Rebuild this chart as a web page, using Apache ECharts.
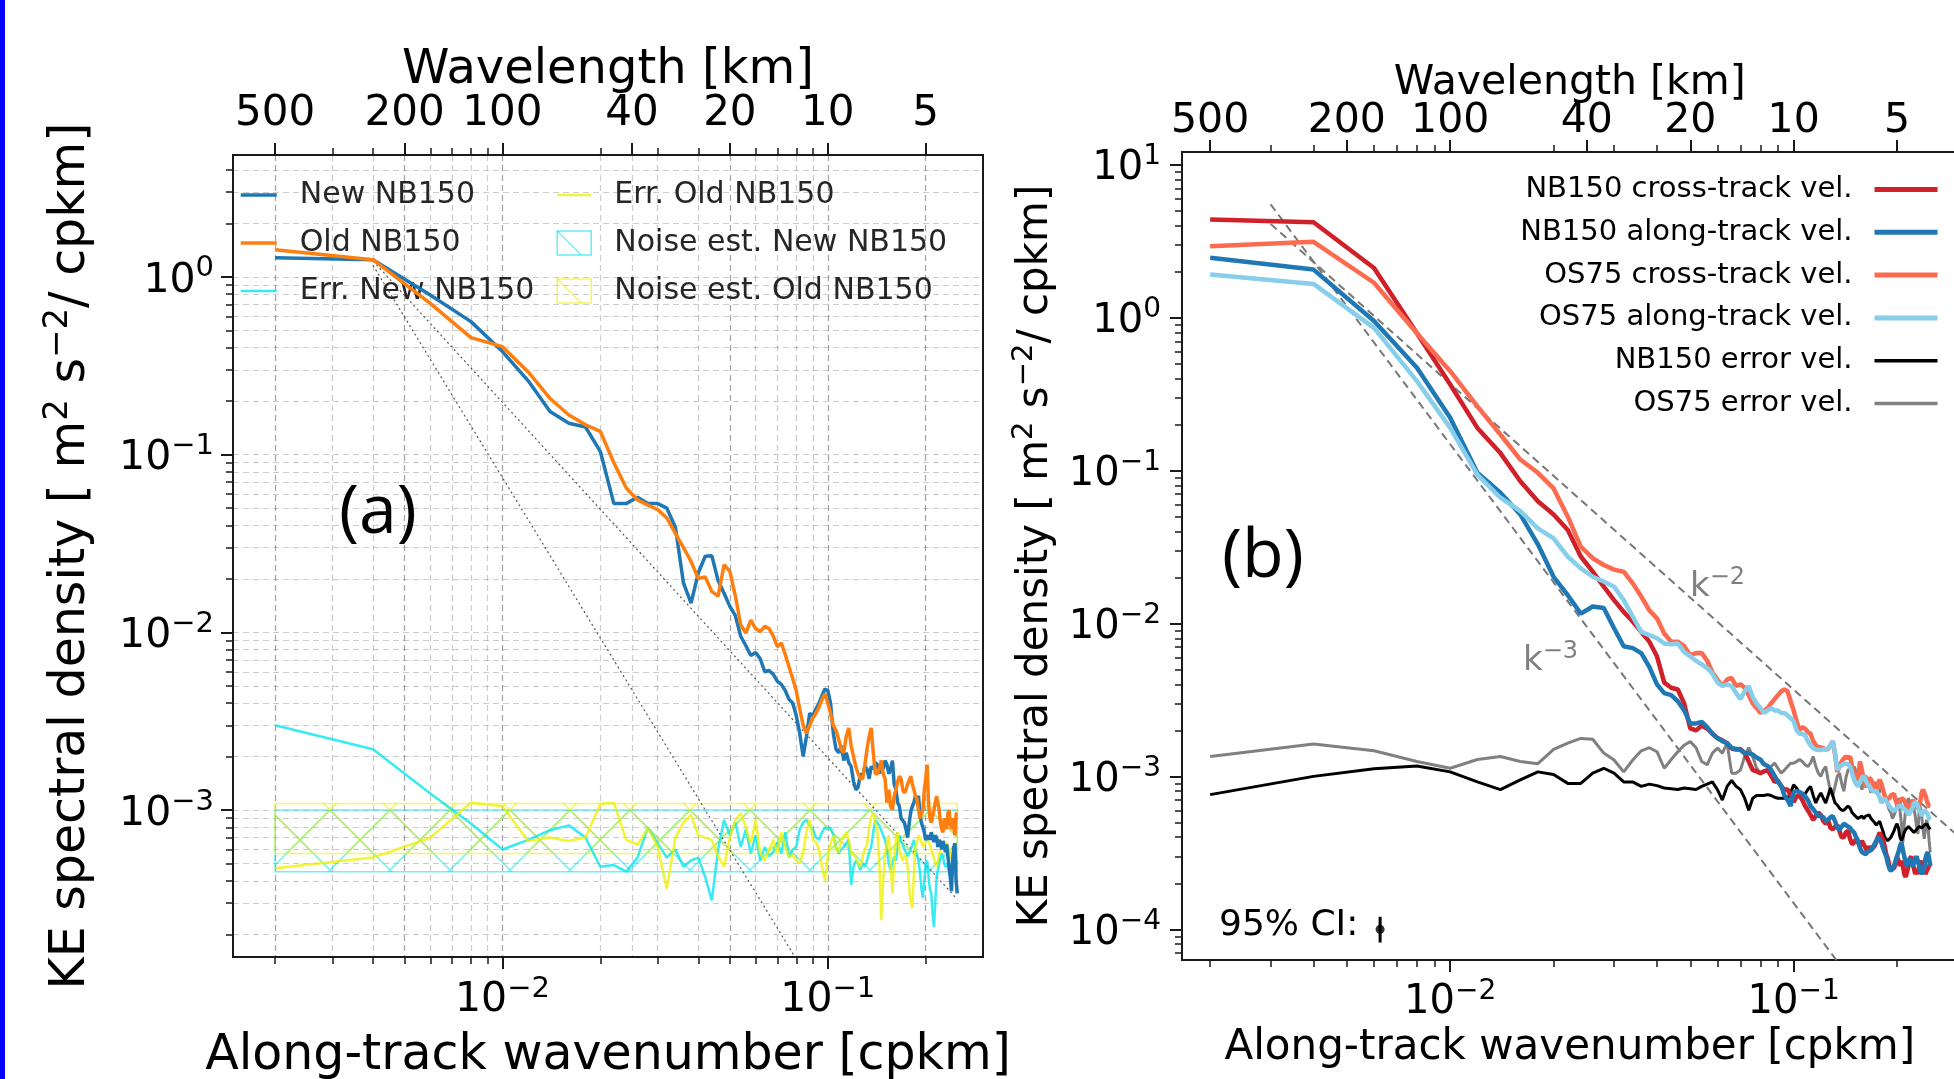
<!DOCTYPE html>
<html><head><meta charset="utf-8">
<script src="https://cdn.jsdelivr.net/npm/echarts@6/dist/echarts.min.js"></script>
<style>html,body{margin:0;padding:0;background:#fff}#c{width:1954px;height:1079px}</style>
</head><body><div id="c"></div>
<script>
// ---------- DATA ----------
const wavenumber = [
0.002,0.004,0.006,0.008,0.010,0.012,0.014,0.016,0.018,0.020,
0.022,0.024,0.026,0.028,0.030,0.032,0.034,0.036,0.038,0.040,
0.042,0.044,0.046,0.048,0.050,0.052,0.054,0.056,0.058,0.060,
0.062,0.064,0.066,0.068,0.070,0.072,0.074,0.076,0.078,0.080,
0.082,0.084,0.086,0.088,0.090,0.092,0.094,0.096,0.098,0.100,
0.102,0.104,0.106,0.108,0.110,0.112,0.114,0.116,0.118,0.120,
0.122,0.124,0.126,0.128,0.130,0.132,0.134,0.136,0.138,0.140,
0.142,0.144,0.146,0.148,0.150,0.152,0.154,0.156,0.158,0.160,
0.162,0.164,0.166,0.168,0.170,0.172,0.174,0.176,0.178,0.180,
0.182,0.184,0.186,0.188,0.190,0.192,0.194,0.196,0.198,0.200,
0.202,0.204,0.206,0.208,0.210,0.212,0.214,0.216,0.218,0.220,
0.222,0.224,0.226,0.228,0.230,0.232,0.234,0.236,0.238,0.240,
0.242,0.244,0.246,0.248,0.250];

// Panel (a)
const newNB150 = [
1.28,1.25,0.79,0.56,0.38,0.26,0.175,0.15,0.143,0.104,
0.053,0.053,0.0575,0.053,0.053,0.05,0.039,0.019,0.0146,0.0216,
0.0268,0.027,0.0196,0.0166,0.014,0.0124,0.0095,0.0084,0.0074,0.0077,
0.0071,0.006,0.0061,0.0058,0.0053,0.0051,0.0047,0.0042,0.004,0.0034,
0.0027,0.002,0.0026,0.0035,0.0034,0.0037,0.004,0.0044,0.0048,0.0047,
0.004,0.0027,0.0022,0.0021,0.0023,0.0019,0.0021,0.00185,0.00176,0.00145,
0.0013,0.00135,0.0016,0.00155,0.00176,0.0017,0.0015,0.00176,0.0017,0.00185,
0.0018,0.0016,0.00185,0.0017,0.0019,0.0018,0.0016,0.0017,0.0019,0.0014,
0.0013,0.0011,0.00105,0.0009,0.00088,0.00085,0.00078,0.0007,0.00085,0.00098,
0.00105,0.0011,0.0012,0.00115,0.0012,0.00095,0.00085,0.0008,0.00075,0.00068,
0.0007,0.00072,0.00068,0.00075,0.0007,0.00066,0.00072,0.0007,0.00062,0.00068,
0.00065,0.0006,0.00067,0.00062,0.00058,0.00064,0.00055,0.00048,0.00042,0.00035,
0.00052,0.00062,0.00065,0.0004,0.00034];
const oldNB150 = [
1.42,1.25,0.71,0.455,0.405,0.292,0.207,0.167,0.147,0.135,
0.09,0.065,0.0556,0.052,0.049,0.044,0.036,0.03,0.025,0.0201,
0.0205,0.017,0.016,0.024,0.022,0.016,0.011,0.0099,0.0117,0.0105,
0.0101,0.0108,0.0105,0.0095,0.0083,0.0087,0.0075,0.0064,0.0055,0.0047,
0.0037,0.003,0.0027,0.003,0.0033,0.0035,0.0038,0.0042,0.0045,0.004,
0.0035,0.003,0.0028,0.0025,0.0022,0.0021,0.0026,0.0029,0.0023,0.002,
0.00175,0.0016,0.0015,0.0015,0.0018,0.0022,0.0026,0.0029,0.0021,0.0016,
0.0016,0.0017,0.0019,0.0016,0.0015,0.0011,0.0013,0.00105,0.001,0.0012,
0.0013,0.00145,0.00155,0.0015,0.0013,0.00125,0.0013,0.0014,0.0014,0.00155,
0.0014,0.0013,0.0012,0.00115,0.001,0.0009,0.00088,0.001,0.0013,0.0015,
0.0018,0.0011,0.0009,0.00085,0.00085,0.001,0.0011,0.0012,0.0012,0.001,
0.00085,0.00078,0.00075,0.0009,0.00085,0.00078,0.00096,0.001,0.00085,0.00078,
0.0009,0.0008,0.00072,0.00095,0.00096];
const errNewNB150 = [
0.003,0.0022,0.00124,0.00084,0.0006,0.00068,0.00077,0.00082,0.0007,0.00048,
0.00049,0.00045,0.00054,0.0008,0.00065,0.00054,0.0006,0.00048,0.00052,0.00054,
0.00042,0.00031,0.0006,0.00088,0.00072,0.00085,0.00062,0.00078,0.00057,0.00072,
0.00052,0.00062,0.00055,0.00058,0.00066,0.00057,0.00075,0.00054,0.0006,0.00062,
0.00078,0.00085,0.00088,0.00082,0.00078,0.0007,0.00068,0.00075,0.0008,0.00078,
0.0008,0.00072,0.00062,0.00057,0.0006,0.00062,0.00065,0.00068,0.00038,0.00048,
0.00052,0.0005,0.00046,0.0005,0.00048,0.00052,0.00058,0.00062,0.00075,0.00088,
0.00085,0.00082,0.0008,0.00072,0.00068,0.0006,0.0005,0.00046,0.0005,0.00055,
0.00052,0.00062,0.00072,0.00066,0.00064,0.0006,0.00058,0.00055,0.00054,0.0006,
0.00064,0.00068,0.0006,0.00056,0.00052,0.00045,0.00036,0.00032,0.0004,0.0005,
0.00052,0.00042,0.00036,0.00034,0.00026,0.00022,0.0003,0.00042,0.00046,0.0005,
0.00055,0.00057,0.00055,0.0005,0.00048,0.0005,0.00049,0.00045,0.00042,0.0004,
0.00048,0.00057,0.00055,0.00049,0.00052];
const errOldNB150 = [
0.00047,0.00054,0.0007,0.0011,0.00105,0.00067,0.0007,0.00067,0.0007,0.00108,
0.0011,0.00068,0.00064,0.00079,0.00062,0.00036,0.0007,0.00085,0.00094,0.00072,
0.0007,0.00068,0.00055,0.00048,0.0007,0.00088,0.00096,0.0008,0.00065,0.00088,
0.00057,0.00052,0.0006,0.00068,0.00057,0.00075,0.00062,0.00054,0.00056,0.00052,
0.0005,0.00058,0.00075,0.00088,0.00068,0.00066,0.0006,0.00048,0.0004,0.00055,
0.00065,0.00072,0.0006,0.00058,0.00068,0.0007,0.00075,0.00068,0.00057,0.00056,
0.00054,0.0005,0.00048,0.00055,0.0006,0.00064,0.0008,0.00092,0.00096,0.00085,
0.00078,0.0005,0.00024,0.0004,0.00057,0.00065,0.00072,0.0005,0.00034,0.0005,
0.0007,0.00075,0.0006,0.00055,0.00052,0.00056,0.00054,0.00048,0.00036,0.0003,
0.00028,0.00045,0.00062,0.00066,0.00072,0.0007,0.00066,0.00062,0.00064,0.00066,
0.00068,0.00068,0.00064,0.0006,0.00057,0.00054,0.0005,0.00048,0.00052,0.00056,
0.0006,0.00062,0.0006,0.00062,0.00064,0.00066,0.00065,0.0006,0.00056,0.00054,
0.00052,0.00056,0.0006,0.00062,0.00062];
const noiseSpanK = [0.002, 0.25];
const noiseNewBand = [4.5e-4, 1.0e-3];
const noiseOldBand = [5.7e-4, 1.09e-3];
const refA_km2 = [[0.004, 1.23], [0.25, 3.15e-4]];
const refA_km3 = [[0.004, 1.16], [0.25, 4.75e-6]];

// Panel (b)
const nb150Cross = [
4.38,4.2,2.11,0.79,0.365,0.19,0.13,0.085,0.063,0.0516,
0.0408,0.0274,0.0218,0.0174,0.0142,0.0119,0.0103,0.0088,0.0076,0.0061,
0.0041,0.0038,0.0037,0.003,0.00206,0.002,0.00215,0.00205,0.0019,0.00178,
0.00172,0.00165,0.00152,0.0015,0.00151,0.00142,0.00125,0.0011,0.00108,0.00105,
0.00108,0.0011,0.00101,0.00092,0.00094,0.00086,0.00082,0.00082,0.00075,0.00068,
0.00074,0.00075,0.0007,0.00064,0.0006,0.00056,0.00052,0.00055,0.00058,0.00056,
0.00051,0.00049,0.00052,0.00046,0.00045,0.00047,0.00048,0.00044,0.0004,0.0004,
0.00043,0.00044,0.00039,0.00036,0.00037,0.00039,0.0004,0.00035,0.00038,0.00039,
0.00034,0.00032,0.00035,0.00033,0.00033,0.00035,0.00037,0.0004,0.00043,0.00044,
0.00039,0.00035,0.00031,0.00029,0.00026,0.00025,0.00025,0.00025,0.00027,0.0003,
0.00028,0.00026,0.00028,0.00026,0.00023,0.00022,0.00022,0.00026,0.00029,0.0003,
0.00027,0.00025,0.00023,0.00024,0.00023,0.00026,0.00028,0.00028,0.00026,0.00025,
0.00023,0.00024,0.00025,0.00026,0.00027];
const nb150Along = [
2.46,2.06,0.95,0.47,0.221,0.0966,0.0716,0.0516,0.0329,0.0202,
0.0153,0.0116,0.0129,0.0126,0.0093,0.0071,0.0069,0.0064,0.0052,0.004,
0.0035,0.0034,0.0031,0.0027,0.00222,0.00222,0.00227,0.0021,0.0019,0.00178,
0.0017,0.00165,0.00153,0.00151,0.00149,0.00142,0.00142,0.00139,0.00133,0.00129,
0.0012,0.00117,0.0011,0.00101,0.00092,0.00087,0.00075,0.0007,0.00064,0.00079,
0.0008,0.00079,0.00077,0.00074,0.0007,0.00064,0.00061,0.00058,0.00055,0.00055,
0.00054,0.00051,0.00052,0.00054,0.00055,0.00051,0.00046,0.00045,0.00047,0.00049,
0.00048,0.00047,0.00046,0.00044,0.00043,0.0004,0.00038,0.00034,0.00032,0.00032,
0.00031,0.00032,0.00032,0.00033,0.00034,0.00036,0.00038,0.0004,0.0004,0.00037,
0.00034,0.00033,0.0003,0.00027,0.00025,0.00024,0.00024,0.00026,0.00028,0.0003,
0.00032,0.00035,0.00037,0.00033,0.0003,0.00027,0.00026,0.00028,0.00029,0.00027,
0.00026,0.00027,0.00029,0.0003,0.00028,0.00026,0.00024,0.00023,0.00023,0.00025,
0.00029,0.00031,0.00032,0.00029,0.00026];
const os75Cross = [
2.93,3.13,1.69,0.79,0.446,0.263,0.172,0.118,0.0966,0.0764,
0.0499,0.0318,0.0267,0.0241,0.0225,0.0218,0.0183,0.015,0.0122,0.0108,
0.0086,0.0076,0.0076,0.0071,0.0062,0.0064,0.0064,0.0057,0.0048,0.0043,
0.0039,0.0043,0.0044,0.0039,0.004,0.0038,0.0034,0.003,0.0028,0.0026,
0.0027,0.0028,0.003,0.0032,0.0034,0.0036,0.0037,0.0036,0.0031,0.0027,
0.0023,0.002,0.0021,0.00205,0.00195,0.0019,0.0017,0.0016,0.00155,0.00155,
0.00153,0.0015,0.00151,0.0016,0.0017,0.0014,0.00107,0.00116,0.00125,0.00131,
0.00135,0.00131,0.00135,0.00116,0.00101,0.00095,0.001,0.00125,0.0011,0.00095,
0.00085,0.0009,0.00098,0.00095,0.0009,0.00085,0.00082,0.0009,0.00095,0.0009,
0.00082,0.00075,0.0007,0.0007,0.00072,0.00075,0.00077,0.00077,0.0007,0.00066,
0.00064,0.00068,0.00072,0.00074,0.0007,0.00066,0.00063,0.00061,0.00062,0.00066,
0.0007,0.0007,0.00066,0.00062,0.00061,0.00063,0.0007,0.00078,0.00082,0.0008,
0.00075,0.0007,0.00066,0.00064,0.00064];
const os75Along = [
1.91,1.66,0.857,0.384,0.19,0.094,0.0664,0.0543,0.0418,0.036,
0.0273,0.0229,0.0202,0.0188,0.0174,0.0142,0.0111,0.0088,0.0084,0.008,
0.0074,0.0073,0.0074,0.0065,0.0061,0.0057,0.0054,0.0051,0.0047,0.0041,
0.0039,0.004,0.0039,0.0035,0.0032,0.0036,0.0039,0.0033,0.003,0.0028,
0.0026,0.0027,0.0028,0.0027,0.0027,0.0026,0.0026,0.0025,0.0024,0.0023,
0.002,0.0019,0.0019,0.00185,0.0017,0.0016,0.00153,0.0015,0.00149,0.00149,
0.0015,0.0015,0.00153,0.0016,0.0017,0.00142,0.0011,0.00116,0.00118,0.00121,
0.00121,0.0012,0.00116,0.00105,0.00095,0.00089,0.00086,0.00092,0.00097,0.00101,
0.00095,0.00089,0.00086,0.00084,0.0008,0.00082,0.0008,0.00078,0.00073,0.00067,
0.00069,0.00072,0.00069,0.00067,0.00064,0.00062,0.0006,0.0006,0.0006,0.00062,
0.00064,0.00064,0.00064,0.00062,0.00061,0.0006,0.00058,0.00056,0.00058,0.0006,
0.00062,0.00067,0.00069,0.00067,0.00064,0.0006,0.00058,0.00055,0.00058,0.0006,
0.00059,0.00058,0.00056,0.00053,0.00052];
const nb150Error = [
0.00076,0.001,0.00112,0.00117,0.00107,0.00092,0.00082,0.00095,0.00107,0.00103,
0.0009,0.0009,0.00105,0.00113,0.00105,0.00092,0.00092,0.00086,0.00089,0.00087,
0.00084,0.00083,0.00082,0.00084,0.00083,0.00082,0.00086,0.00089,0.00092,0.00082,
0.0007,0.00086,0.00094,0.00086,0.00082,0.00072,0.0006,0.00072,0.00075,0.00075,
0.00075,0.00076,0.00075,0.00073,0.00072,0.00072,0.00072,0.00072,0.00078,0.00088,
0.00084,0.00078,0.00075,0.00077,0.00082,0.00086,0.00075,0.00067,0.00073,0.00078,
0.00072,0.00067,0.00075,0.00084,0.00075,0.00067,0.00065,0.00062,0.0006,0.0006,
0.00062,0.00064,0.00062,0.00058,0.00056,0.00055,0.00053,0.00054,0.00055,0.00053,
0.00055,0.00056,0.00056,0.00053,0.00052,0.0005,0.00048,0.00049,0.00051,0.00047,
0.00044,0.0004,0.00039,0.00038,0.00038,0.0004,0.00041,0.00044,0.00047,0.00049,
0.00046,0.0004,0.00038,0.0004,0.00043,0.00045,0.00046,0.00047,0.00046,0.00045,
0.00044,0.00043,0.00044,0.00045,0.00046,0.00047,0.00047,0.00046,0.00047,0.00048,
0.00049,0.00049,0.00048,0.00046,0.00045];
const os75Error = [
0.00135,0.00163,0.00147,0.00125,0.00113,0.00129,0.00135,0.00125,0.00121,0.0015,
0.00165,0.00177,0.00175,0.00142,0.00128,0.00107,0.00128,0.00147,0.00154,0.00145,
0.00113,0.00129,0.00145,0.0016,0.00169,0.00154,0.00125,0.00119,0.00142,0.00153,
0.00142,0.00165,0.00105,0.00105,0.0011,0.00135,0.00154,0.00135,0.00113,0.00105,
0.00108,0.0011,0.00116,0.00122,0.00113,0.00105,0.0011,0.00116,0.00122,0.00122,
0.00125,0.00129,0.00125,0.00119,0.00116,0.00122,0.00135,0.00116,0.00105,0.001,
0.0011,0.00116,0.00095,0.0008,0.00075,0.00086,0.001,0.00105,0.0009,0.0008,
0.00098,0.0011,0.00113,0.00105,0.00116,0.00108,0.00098,0.00089,0.00082,0.00092,
0.00101,0.00095,0.00086,0.00078,0.00086,0.00092,0.00082,0.00075,0.0008,0.00086,
0.00082,0.00076,0.00072,0.00064,0.0006,0.00058,0.00053,0.00052,0.00059,0.00067,
0.00072,0.0006,0.00049,0.00037,0.00049,0.00062,0.00067,0.00072,0.00067,0.00064,
0.00067,0.00062,0.00055,0.00047,0.00042,0.0006,0.00063,0.00055,0.00045,0.00039,
0.00045,0.00052,0.00048,0.00038,0.00032];
const refB_km2 = [[0.003, 4.1], [0.3, 4.1e-4]];
const refB_km3 = [[0.003, 5.5], [0.3, 5.5e-6]];
const ciK = 0.00625, ciMid = 1.0e-4, ciLow = 8.2e-5, ciHigh = 1.21e-4;

// Tick values
const kMajorTicks = [0.01, 0.1];
const kMinorTicks = [0.002,0.003,0.004,0.005,0.006,0.007,0.008,0.009,0.02,0.03,0.04,0.05,0.06,0.07,0.08,0.09,0.2];
const wavelengthTicks = [500, 200, 100, 40, 20, 10, 5];
const yMajorA = [1e-3, 1e-2, 1e-1, 1];
const yMajorB = [1e-4, 1e-3, 1e-2, 1e-1, 1, 10];

// ---------- HELPERS ----------
const F = 'DejaVu Sans';
const pair = ys => wavenumber.map((k, i) => [k, ys[i]]);
const kTop = wavelengthTicks.map(w => 1 / w);
function minorDecades(lo, hi) {
  const out = [];
  for (let e = -6; e <= 2; e++) for (let m = 2; m <= 9; m++) {
    const v = m * Math.pow(10, e);
    if (v > lo && v < hi) out.push(+v.toPrecision(3));
  }
  return out;
}
const A = { xmin: 0.001485, xmax: 0.300, ymin: 1.49e-4, ymax: 4.85 };
const B = { xmin: 0.001656, xmax: 0.300, ymin: 6.3e-5, ymax: 12.1 };
const yMinorA = minorDecades(A.ymin, A.ymax);
const yMinorB = minorDecades(B.ymin, B.ymax);

const expLabel = v => { const e = Math.round(Math.log10(v)); return '{b|10}{s|' + (e < 0 ? '\u2212' + (-e) : e) + '}'; };
const wlLabel = v => String(Math.round(1 / v));
function supRich(fs, sfs, raise, color) {
  return {
    b: { fontSize: fs, fontFamily: F, color: color, verticalAlign: 'bottom', lineHeight: Math.round(fs * 1.2) },
    s: { fontSize: sfs, fontFamily: F, color: color, verticalAlign: 'bottom', lineHeight: Math.round(sfs * 1.2), padding: [0, 0, raise, 0] }
  };
}
const spine = { show: true, lineStyle: { color: '#1a1a1a', width: 2 } };
const gridDash = { show: true, lineStyle: { color: 'rgba(0,0,0,0.2)', width: 1.2, type: [6, 4] } };
const majorTick = vals => ({ show: true, length: 12, customValues: vals, lineStyle: { color: '#1a1a1a', width: 2 } });
const minorTick = vals => ({ show: true, length: 7, customValues: vals, lineStyle: { color: '#1a1a1a', width: 1.5 } });

function hatch(rgba) {
  const c = document.createElement('canvas');
  c.width = 60; c.height = 60;
  const g = c.getContext('2d');
  g.strokeStyle = rgba; g.lineWidth = 1.6;
  g.beginPath(); g.moveTo(0, 0); g.lineTo(60, 60); g.moveTo(60, 0); g.lineTo(0, 60); g.stroke();
  return { image: c, repeat: 'repeat' };
}
const hatchCyan = hatch('rgba(0,225,235,0.5)');
const hatchYellow = hatch('rgba(235,235,0,0.55)');

function xAxes(gi, R, withGrid, fsName, fsTick, gaps) {
  return [
    { gridIndex: gi, type: 'log', min: R.xmin, max: R.xmax, position: 'bottom',
      axisLine: spine, axisTick: majorTick(kMajorTicks),
      axisLabel: { customValues: kMajorTicks, formatter: expLabel, margin: gaps.bottomLabel, rich: supRich(fsTick, Math.round(fsTick * 0.7), 17, '#000') },
      splitLine: withGrid ? gridDash : { show: false }, minorTick: { show: false },
      name: 'Along-track wavenumber [cpkm]', nameLocation: 'middle', nameGap: gaps.bottomName, nameMoveOverlap: false,
      nameTextStyle: { fontSize: fsName, fontFamily: F, color: '#000' } },
    { gridIndex: gi, type: 'log', min: R.xmin, max: R.xmax, position: 'bottom',
      axisLine: { show: false }, axisTick: minorTick(kMinorTicks), axisLabel: { show: false },
      splitLine: withGrid ? gridDash : { show: false } },
    { gridIndex: gi, type: 'log', min: R.xmin, max: R.xmax, position: 'top',
      axisLine: spine, axisTick: majorTick(kTop),
      axisLabel: { customValues: kTop, formatter: wlLabel, margin: gaps.topLabel, fontSize: gaps.topFs, fontFamily: F, color: '#000' },
      splitLine: withGrid ? gridDash : { show: false },
      name: 'Wavelength [km]', nameLocation: 'middle', nameGap: gaps.topName, nameMoveOverlap: false,
      nameTextStyle: { fontSize: gaps.topNameFs, fontFamily: F, color: '#000' } },
    { gridIndex: gi, type: 'log', min: R.xmin, max: R.xmax, position: 'top',
      axisLine: { show: false }, axisTick: minorTick(kMinorTicks), axisLabel: { show: false }, splitLine: { show: false } }
  ];
}
function yAxes(gi, R, withGrid, major, minor, fsName, fsTick, gaps) {
  const sfs = Math.round(fsName * 0.7);
  return [
    { gridIndex: gi, type: 'log', min: R.ymin, max: R.ymax, position: 'left',
      axisLine: spine, axisTick: majorTick(major),
      axisLabel: { customValues: major, formatter: expLabel, margin: gaps.label, rich: supRich(fsTick, Math.round(fsTick * 0.7), 18, '#000') },
      splitLine: withGrid ? gridDash : { show: false },
      name: '{b|KE spectral density [ m}{s|2}{b| s}{s|\u22122}{b|/ cpkm]}',
      nameLocation: 'middle', nameRotate: 90, nameGap: gaps.name, nameMoveOverlap: false,
      nameTextStyle: { rich: supRich(fsName, sfs, Math.round(fsName * 0.43), '#000') } },
    { gridIndex: gi, type: 'log', min: R.ymin, max: R.ymax, position: 'left',
      axisLine: { show: false }, axisTick: minorTick(minor), axisLabel: { show: false },
      splitLine: withGrid ? gridDash : { show: false } }
  ];
}

const line = (name, xi, yi, data, color, width, z, extra) => Object.assign({
  type: 'line', name, xAxisIndex: xi, yAxisIndex: yi, data, symbol: 'none', showSymbol: false,
  lineStyle: { color, width }, itemStyle: { color }, z, animation: false, silent: true
}, extra || {});

const hideSym = { opacity: 0 };
const option = {
  animation: false,
  backgroundColor: '#fff',
  grid: [
    { left: 233, top: 155, width: 750, height: 802, show: true, borderColor: '#1a1a1a', borderWidth: 2, backgroundColor: 'transparent', containLabel: false, outerBoundsMode: 'none' },
    { left: 1182, top: 152, width: 775.5, height: 808, show: true, borderColor: '#1a1a1a', borderWidth: 2, backgroundColor: 'transparent', containLabel: false, outerBoundsMode: 'none' }
  ],
  xAxis: [
    ...xAxes(0, A, true, 49, 41, { bottomLabel: 15, bottomName: 75, topLabel: 20, topFs: 42, topName: 60, topNameFs: 48 }),
    ...xAxes(1, B, false, 42, 40, { bottomLabel: 15, bottomName: 67, topLabel: 10, topFs: 41, topName: 48, topNameFs: 41 })
  ],
  yAxis: [
    ...yAxes(0, A, true, yMajorA, yMinorA, 49, 41, { label: 19, name: 137 }),
    ...yAxes(1, B, false, yMajorB, yMinorB, 42, 40, { label: 21, name: 125 })
  ],
  legend: [
    { data: ['New NB150', 'Old NB150', { name: 'Err. New NB150', lineStyle: { width: 2.5 } }], orient: 'vertical', left: 239, top: 180, padding: 0,
      itemWidth: 36, itemHeight: 24, itemGap: 18, selectedMode: false, itemStyle: hideSym, lineStyle: { width: 3.5 },
      textStyle: { fontSize: 30, fontFamily: F, color: '#262626', lineHeight: 30, padding: [0, 0, 0, 18] } },
    { data: [{ name: 'Err. Old NB150', itemStyle: hideSym, lineStyle: { width: 2.5 } },
        { name: 'Noise est. New NB150', icon: 'rect', itemStyle: { opacity: 1, color: hatchCyan, borderColor: 'rgba(0,225,235,0.6)', borderWidth: 1.5 } },
        { name: 'Noise est. Old NB150', icon: 'rect', itemStyle: { opacity: 1, color: hatchYellow, borderColor: 'rgba(235,235,0,0.6)', borderWidth: 1.5 } }],
      orient: 'vertical', left: 556, top: 180, padding: 0, itemWidth: 34, itemHeight: 24, itemGap: 18, selectedMode: false,
      textStyle: { fontSize: 30, fontFamily: F, color: '#262626', lineHeight: 30, padding: [0, 0, 0, 18] } },
    { data: ['NB150 cross-track vel.', 'NB150 along-track vel.', 'OS75 cross-track vel.', 'OS75 along-track vel.',
        { name: 'NB150 error vel.', lineStyle: { width: 3.5 } }, { name: 'OS75 error vel.', lineStyle: { width: 3.5 } }],
      orient: 'vertical', right: 14, top: 175, align: 'right', padding: 0, itemWidth: 63, itemHeight: 14, itemGap: 13.8, selectedMode: false,
      itemStyle: hideSym, lineStyle: { width: 5 },
      textStyle: { fontSize: 29, fontFamily: F, color: '#000', lineHeight: 29, padding: [0, 17, 0, 0] } }
  ],
  series: [
    // Panel (a)
    line('Noise est. New NB150', 0, 0, [], 'rgba(0,225,235,0.6)', 1, 1, {
      markArea: { silent: true, itemStyle: { color: hatchCyan, borderColor: 'rgba(0,225,235,0.55)', borderWidth: 1.5 },
        data: [[{ coord: [noiseSpanK[0], noiseNewBand[0]] }, { coord: [noiseSpanK[1], noiseNewBand[1]] }]] } }),
    line('Noise est. Old NB150', 0, 0, [], 'rgba(235,235,0,0.6)', 1, 1, {
      markArea: { silent: true, itemStyle: { color: hatchYellow, borderColor: 'rgba(240,240,0,0.6)', borderWidth: 1.5 },
        data: [[{ coord: [noiseSpanK[0], noiseOldBand[0]] }, { coord: [noiseSpanK[1], noiseOldBand[1]] }]] } }),
    line('refA2', 0, 0, refA_km2, '#555', 1.2, 2, { lineStyle: { color: '#555', width: 1.2, type: [2, 3] } }),
    line('refA3', 0, 0, refA_km3, '#555', 1.2, 2, { lineStyle: { color: '#555', width: 1.2, type: [2, 3] } }),
    line('Err. New NB150', 0, 0, pair(errNewNB150), 'rgba(0,230,240,0.78)', 2.5, 3),
    line('Err. Old NB150', 0, 0, pair(errOldNB150), 'rgba(240,240,0,0.78)', 2.5, 3),
    line('New NB150', 0, 0, pair(newNB150), '#1f77b4', 3.5, 4),
    line('Old NB150', 0, 0, pair(oldNB150), '#ff7f0e', 3.5, 4),
    // Panel (b)
    line('refB2', 4, 2, refB_km2, '#777', 2, 2, { lineStyle: { color: '#777', width: 2, type: [8, 5] } }),
    line('refB3', 4, 2, refB_km3, '#777', 2, 2, { lineStyle: { color: '#777', width: 2, type: [8, 5] } }),
    line('OS75 error vel.', 4, 2, pair(os75Error), '#808080', 3, 3),
    line('NB150 error vel.', 4, 2, pair(nb150Error), '#000000', 3, 3),
    line('NB150 cross-track vel.', 4, 2, pair(nb150Cross), '#d0202a', 4.5, 4),
    line('OS75 cross-track vel.', 4, 2, pair(os75Cross), '#fc6a50', 4.5, 4),
    line('NB150 along-track vel.', 4, 2, pair(nb150Along), '#1f78b4', 4.5, 5),
    line('OS75 along-track vel.', 4, 2, pair(os75Along), '#87ceeb', 4.5, 5),
    line('ci', 4, 2, [[ciK, ciLow], [ciK, ciHigh]], '#000', 3, 6),
    { type: 'scatter', name: 'ciPoint', xAxisIndex: 4, yAxisIndex: 2, data: [[ciK, ciMid]], symbol: 'circle', symbolSize: 9,
      itemStyle: { color: '#000' }, z: 6, silent: true, animation: false }
  ],
  graphic: [
    { type: 'rect', shape: { x: 0, y: 0, width: 5, height: 1079 }, style: { fill: '#0000ff' }, z: 100 },
    { type: 'text', x: 339, y: 514, z: 100, style: { text: '(a)', fontSize: 68, fontFamily: 'Open Sans', fill: '#000', align: 'left', verticalAlign: 'middle' } },
    { type: 'text', x: 1222, y: 558, z: 100, style: { text: '(b)', fontSize: 68, fontFamily: 'Open Sans', fill: '#000', align: 'left', verticalAlign: 'middle' } },
    { type: 'text', x: 1219, y: 926, z: 100, style: { text: '95% CI:', fontSize: 36, fontFamily: F, fill: '#000', align: 'left', verticalAlign: 'middle' } },
    { type: 'text', x: 1690, y: 584, z: 100, style: { text: '{k|k}{s|\u22122}', align: 'left', verticalAlign: 'middle',
        rich: { k: { fontSize: 34, fontFamily: F, fill: '#808080', verticalAlign: 'bottom', lineHeight: 41 },
                s: { fontSize: 24, fontFamily: F, fill: '#808080', verticalAlign: 'bottom', lineHeight: 29, padding: [0, 0, 15, 0] } } } },
    { type: 'text', x: 1523, y: 658, z: 100, style: { text: '{k|k}{s|\u22123}', align: 'left', verticalAlign: 'middle',
        rich: { k: { fontSize: 34, fontFamily: F, fill: '#808080', verticalAlign: 'bottom', lineHeight: 41 },
                s: { fontSize: 24, fontFamily: F, fill: '#808080', verticalAlign: 'bottom', lineHeight: 29, padding: [0, 0, 15, 0] } } } }
  ]
};
const chart = echarts.init(document.getElementById('c'), null, { renderer: 'canvas' });
chart.setOption(option);
</script></body></html>
